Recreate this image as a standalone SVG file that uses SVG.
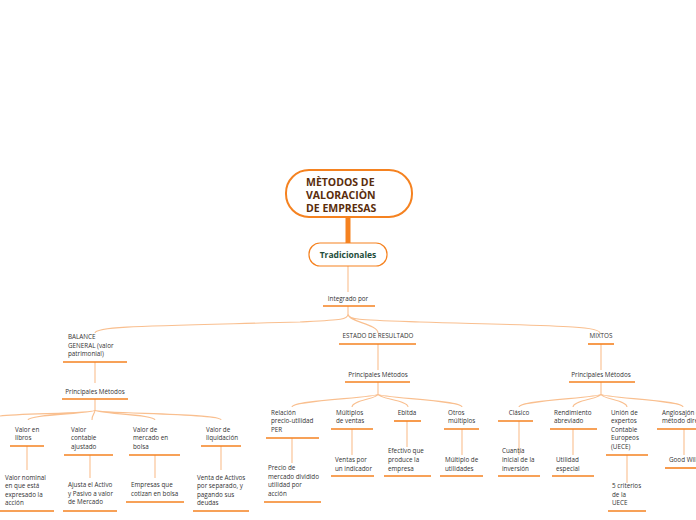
<svg xmlns="http://www.w3.org/2000/svg" width="696" height="520" viewBox="0 0 696 520">
<style>
text{font-family:"Open Sans","Liberation Sans",sans-serif;font-size:6.3px;fill:#333}
.c{text-anchor:middle}
.u{stroke:#f58220;stroke-width:1.6;fill:none}
.l{stroke:#f9bf8f;stroke-width:1.1;fill:none}
</style>
<rect width="696" height="520" fill="#fff"/>
<g id="connectors">
<line x1="348" y1="217" x2="348" y2="243" stroke="#f58220" stroke-width="5"/>
<path class="l" d="M348 266V292M348 306V314C348 320 340 320 300 322C150 326 95 326 95 333M348 314C348 322 378 324 378 333M348 314C348 320 360 320 420 322C560 326 600 326 600 333"/>
<path class="l" d="M95 362V383M95 399V410C95 414 20 413 0 416M95 410C95 414 28 414 28 420M95 410C95 414 92 414 92 420M95 410C95 414 155 414 155 420M95 410C95 414 221 413 221 420"/>
<path class="l" d="M27 446V470M90 455V478M155 455V478M221 446V470"/>
<path class="l" d="M378 344V370M378 382V394C378 398 292 400 292 407M378 394C378 399 352 400 352 407M378 394C378 399 408 400 408 407M378 394C378 398 462 400 462 407"/>
<path class="l" d="M292 438V463M352 429V455M407 421V447M462 429V455"/>
<path class="l" d="M601 344V370M601 382V394C601 398 519 400 519 407M601 394C601 399 573 400 573 407M601 394C601 399 627 400 627 407M601 394C601 398 683 400 683 407"/>
<path class="l" d="M519 421V455M573 429V455M627 455V483M684 429V455"/>
</g>
<g id="root">
<rect x="286" y="170" width="126" height="47" rx="23" fill="#fff" stroke="#f58220" stroke-width="2"/>
<text x="306" y="186" style="font-size:10.5px;font-weight:bold;fill:#5a2d0c">MÈTODOS DE</text>
<text x="306" y="199" style="font-size:10.5px;font-weight:bold;fill:#5a2d0c">VALORACIÒN</text>
<text x="306" y="212" style="font-size:10.5px;font-weight:bold;fill:#5a2d0c">DE EMPRESAS</text>
</g>
<g id="tradicionales">
<rect x="309" y="243" width="78" height="23" rx="11" fill="#fff" stroke="#f58220" stroke-width="1.2"/>
<text x="348" y="258" class="c" style="font-size:8.5px;font-weight:bold;fill:#1e4d3a">Tradicionales</text>
</g>
<g id="integrado"><text x="348" y="301" class="c">Integrado por</text><line class="u" x1="323" y1="306" x2="375" y2="306"/></g>
<g id="balance"><text x="68" y="339">BALANCE</text><text x="68" y="348">GENERAL (valor</text><text x="68" y="356">patrimonial)</text><line class="u" x1="63" y1="362" x2="127" y2="362"/></g>
<g id="pm1"><text x="95" y="394" class="c">Principales Métodos</text><line class="u" x1="62" y1="399" x2="128" y2="399"/></g>
<g id="libros"><text x="15" y="432">Valor en</text><text x="15" y="440">libros</text><line class="u" x1="10" y1="446" x2="44" y2="446"/></g>
<g id="libros2"><text x="5" y="480">Valor nominal</text><text x="5" y="488">en que está</text><text x="5" y="497">expresado la</text><text x="5" y="505">acción</text><line class="u" x1="0" y1="511" x2="54" y2="511"/></g>
<g id="contable"><text x="71" y="432">Valor</text><text x="71" y="440">contable</text><text x="71" y="449">ajustado</text><line class="u" x1="64" y1="455" x2="113" y2="455"/></g>
<g id="contable2"><text x="68" y="487">Ajusta el Activo</text><text x="68" y="496">y Pasivo a valor</text><text x="68" y="504">de Mercado</text><line class="u" x1="63" y1="511" x2="117" y2="511"/></g>
<g id="mercado"><text x="133" y="432">Valor de</text><text x="133" y="440">mercado en</text><text x="133" y="449">bolsa</text><line class="u" x1="129" y1="455" x2="180" y2="455"/></g>
<g id="mercado2"><text x="131" y="487">Empresas que</text><text x="131" y="496">cotizan en bolsa</text><line class="u" x1="126" y1="502" x2="184" y2="502"/></g>
<g id="liquidacion"><text x="206" y="432">Valor de</text><text x="206" y="440">liquidación</text><line class="u" x1="201" y1="446" x2="241" y2="446"/></g>
<g id="liquidacion2"><text x="197" y="480">Venta de Activos</text><text x="197" y="488">por separado, y</text><text x="197" y="497">pagando sus</text><text x="197" y="505">deudas</text><line class="u" x1="193" y1="511" x2="249" y2="511"/></g>
<g id="estado"><text x="378" y="338" class="c">ESTADO DE RESULTADO</text><line class="u" x1="339" y1="344" x2="416" y2="344"/></g>
<g id="pm2"><text x="378" y="377" class="c">Principales Métodos</text><line class="u" x1="345" y1="382" x2="410" y2="382"/></g>
<g id="per"><text x="271" y="415">Relación</text><text x="271" y="423">precio-utilidad</text><text x="271" y="432">PER</text><line class="u" x1="266" y1="438" x2="319" y2="438"/></g>
<g id="per2"><text x="268" y="470">Precio de</text><text x="268" y="479">mercado dividido</text><text x="268" y="487">utilidad por</text><text x="268" y="496">acción</text><line class="u" x1="264" y1="502" x2="321" y2="502"/></g>
<g id="multiplos"><text x="336" y="415">Múltiplos</text><text x="336" y="423">de ventas</text><line class="u" x1="331" y1="429" x2="373" y2="429"/></g>
<g id="multiplos2"><text x="335" y="462">Ventas por</text><text x="335" y="471">un indicador</text><line class="u" x1="331" y1="476" x2="374" y2="476"/></g>
<g id="ebitda"><text x="407" y="415" class="c">Ebitda</text><line class="u" x1="394" y1="421" x2="421" y2="421"/></g>
<g id="ebitda2"><text x="388" y="453">Efectivo que</text><text x="388" y="462">produce la</text><text x="388" y="471">empresa</text><line class="u" x1="384" y1="476" x2="431" y2="476"/></g>
<g id="otros"><text x="448" y="415">Otros</text><text x="448" y="423">múltiplos</text><line class="u" x1="444" y1="429" x2="479" y2="429"/></g>
<g id="otros2"><text x="445" y="462">Múltiplo de</text><text x="445" y="471">utilidades</text><line class="u" x1="440" y1="476" x2="483" y2="476"/></g>
<g id="mixtos"><text x="601" y="338" class="c">MIXTOS</text><line class="u" x1="588" y1="344" x2="614" y2="344"/></g>
<g id="pm3"><text x="601" y="377" class="c">Principales Métodos</text><line class="u" x1="569" y1="382" x2="635" y2="382"/></g>
<g id="clasico"><text x="519" y="415" class="c">Clásico</text><line class="u" x1="498" y1="421" x2="533" y2="421"/></g>
<g id="clasico2"><text x="502" y="453">Cuantía</text><text x="502" y="462">inicial de la</text><text x="502" y="471">inversión</text><line class="u" x1="498" y1="476" x2="540" y2="476"/></g>
<g id="rendimiento"><text x="554" y="415">Rendimiento</text><text x="554" y="423">abreviado</text><line class="u" x1="550" y1="429" x2="597" y2="429"/></g>
<g id="rendimiento2"><text x="556" y="462">Utilidad</text><text x="556" y="471">especial</text><line class="u" x1="552" y1="476" x2="594" y2="476"/></g>
<g id="uece"><text x="611" y="415">Unión de</text><text x="611" y="423">expertos</text><text x="611" y="432">Contable</text><text x="611" y="440">Europeos</text><text x="611" y="449">(UECE)</text><line class="u" x1="606" y1="455" x2="648" y2="455"/></g>
<g id="uece2"><text x="612" y="488">5 criterios</text><text x="612" y="497">de la</text><text x="612" y="505">UECE</text><line class="u" x1="608" y1="511" x2="646" y2="511"/></g>
<g id="anglo"><text x="662" y="415">Anglosajón o</text><text x="662" y="423">método directo</text><line class="u" x1="657" y1="429" x2="696" y2="429"/></g>
<g id="anglo2"><text x="669" y="462">Good Will</text><line class="u" x1="665" y1="468" x2="696" y2="468"/></g>
</svg>
